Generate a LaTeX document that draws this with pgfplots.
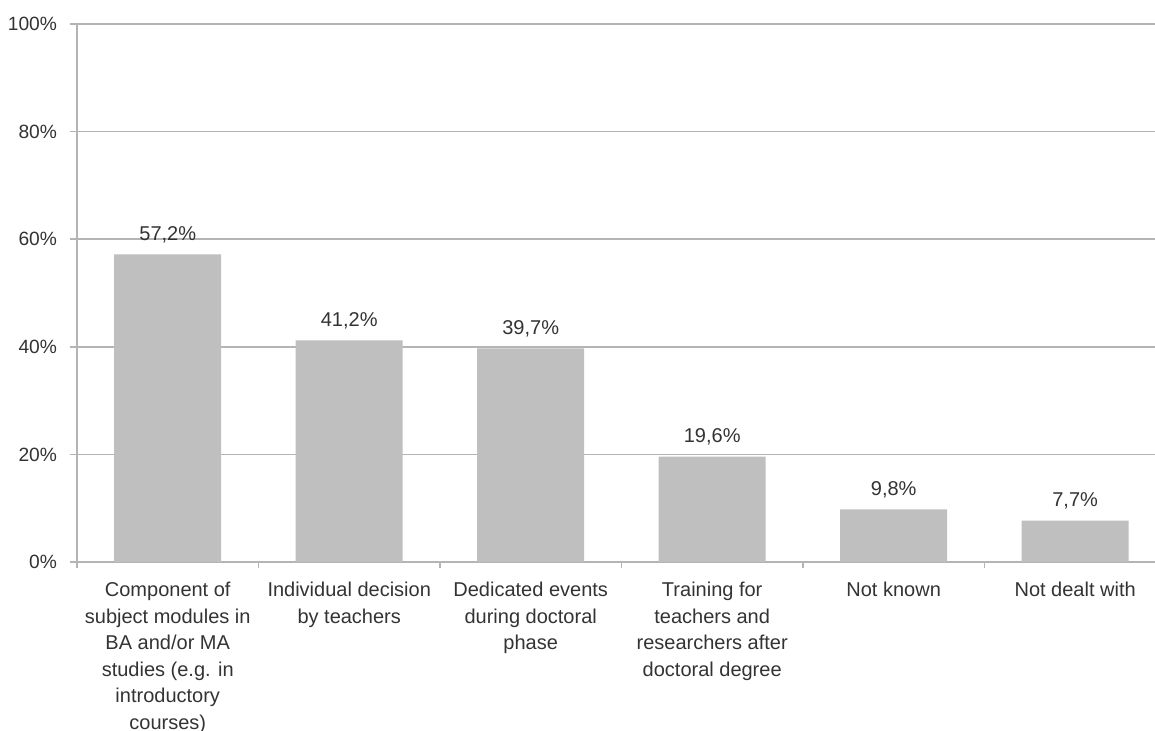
\documentclass[border=0pt]{standalone}
\usepackage{fontspec}
\setmainfont{Liberation Sans}
\usepackage{pgfplots}
\pgfplotsset{compat=1.18}
\definecolor{barfill}{HTML}{BFBFBF}
\definecolor{gridc}{HTML}{B4B4B4}
\definecolor{txt}{HTML}{333333}
\begin{document}
\begin{tikzpicture}
\begin{axis}[
    name=ax,
    scale only axis,
    width=539pt, height=269pt,
    ybar, bar width=53.5pt,
    xmin=-0.5, xmax=5.44,
    ymin=0, ymax=100,
    axis lines=left,
    axis line style={-, gridc, line width=0.8pt},
    xtick={0,...,5},
    minor xtick={-0.5,0.5,...,4.5},
    major x tick style={draw=none},
    minor x tick style={gridc, line width=0.8pt},
    minor tick length=3pt,
    ytick={0,20,...,100},
    major y tick style={gridc, line width=0.8pt},
    major tick length=3.5pt,
    tick align=outside,
    ymajorgrids,
    grid style={gridc, line width=0.8pt},
    /pgf/number format/assume math mode=true,
    yticklabel={\pgfmathprintnumber{\tick}\%},
    yticklabel style={font=\fontsize{9.6}{12}\selectfont, text=txt, xshift=-3pt},
    xticklabels={
      {Component of\\subject modules in\\BA and/or MA\\studies (e.g. in\\introductory\\courses)},
      {Individual decision\\by teachers},
      {Dedicated events\\during doctoral\\phase},
      {Training for\\teachers and\\researchers after\\doctoral degree},
      {Not known},
      {Not dealt with}},
    xticklabel style={font=\fontsize{10}{13.3}\selectfont, text=txt, align=center, yshift=-3pt},
    nodes near coords={\pgfmathprintnumber[fixed, fixed zerofill, precision=1, use comma]{\pgfplotspointmeta}\%},
    nodes near coords style={font=\fontsize{10}{12}\selectfont, text=txt, yshift=2pt},
    clip=false,
]
\addplot[fill=barfill, draw=none] coordinates {
  (0,57.2) (1,41.2) (2,39.7) (3,19.6) (4,9.8) (5,7.7)};
\end{axis}
\pgfresetboundingbox
\path ([xshift=-38.5pt,yshift=-84.5pt]ax.south west) rectangle ([yshift=12pt]ax.north east);
\end{tikzpicture}
\end{document}
